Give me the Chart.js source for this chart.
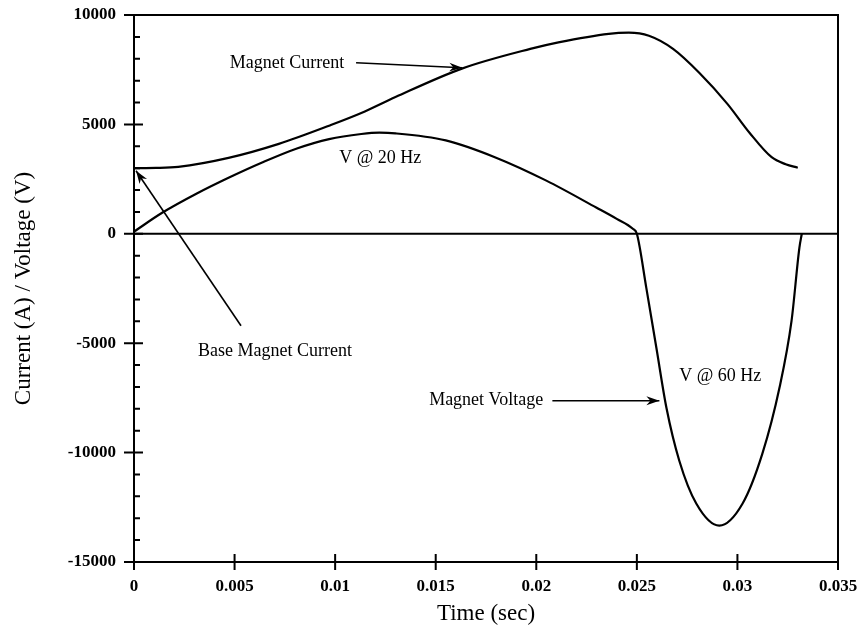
<!DOCTYPE html>
<html>
<head>
<meta charset="utf-8">
<script src="https://cdn.jsdelivr.net/npm/chart.js@4.4.1/dist/chart.umd.min.js"></script>
<style>
html, body { margin: 0; padding: 0; background: #fff; }
</style>
</head>
<body>
<canvas id="chart" width="866" height="636"></canvas>
<script>
// magnet current (A) vs time (sec)
var currentTime = [0, 0.0011, 0.0022, 0.0047, 0.0072, 0.0097, 0.0113, 0.013, 0.0163, 0.0197, 0.0211, 0.0236, 0.0246, 0.0256, 0.0268, 0.0281, 0.0295, 0.0306, 0.0317, 0.0324, 0.033];
var currentAmps = [3000, 3010, 3060, 3470, 4110, 4940, 5520, 6250, 7550, 8450, 8750, 9140, 9190, 9050, 8450, 7360, 5940, 4620, 3500, 3180, 3020];

// magnet voltage (V) vs time (sec)
var voltTime = [0, 0.0014, 0.0031, 0.0047, 0.0064, 0.0081, 0.0097, 0.0113, 0.0122, 0.013, 0.0155, 0.018, 0.0205, 0.023, 0.024, 0.0248, 0.025, 0.02547, 0.02597, 0.02647, 0.02711, 0.02796, 0.0291, 0.03025, 0.03124, 0.03209, 0.03269, 0.03308, 0.0332];
var voltValues = [100, 960, 1830, 2560, 3270, 3900, 4330, 4560, 4620, 4590, 4270, 3480, 2430, 1190, 680, 230, 0, -2470, -5210, -7950, -10370, -12340, -13340, -12340, -10050, -7040, -3980, -640, 0];

var xTicks = [0, 0.005, 0.01, 0.015, 0.02, 0.025, 0.03, 0.035];
var xTickLabels = ['0', '0.005', '0.01', '0.015', '0.02', '0.025', '0.03', '0.035'];
var yTicks = [-15000, -10000, -5000, 0, 5000, 10000];
var yTickLabels = ['-15000', '-10000', '-5000', '0', '5000', '10000'];

// text notes and arrows, in data coordinates
var notes = [
    { text: 'Magnet Current', x: 0.00761, y: 7815 },
    { text: 'V @ 20 Hz', x: 0.01224, y: 3430 },
    { text: 'Base Magnet Current', x: 0.00701, y: -5350 },
    { text: 'Magnet Voltage', x: 0.01751, y: -7630 },
    { text: 'V @ 60 Hz', x: 0.02915, y: -6490 }
];
var arrows = [
    { x0: 0.01104, y0: 7815, x1: 0.01632, y1: 7590 },
    { x0: 0.00532, y0: -4205, x1: 0.0001, y1: 2880 },
    { x0: 0.0208, y0: -7630, x1: 0.02612, y1: -7630 }
];

function pairs(xs, ys) {
    return xs.map(function (x, i) { return { x: x, y: ys[i] }; });
}

var decor = {
    id: 'decor',
    beforeDatasetsDraw: function (chart) {
        var c = chart.ctx, a = chart.chartArea;
        var xs = chart.scales.x, ys = chart.scales.y;
        c.save();
        c.strokeStyle = '#000';
        c.lineWidth = 2;
        c.strokeRect(a.left, a.top, a.right - a.left, a.bottom - a.top);
        // zero line
        var z = ys.getPixelForValue(0);
        c.beginPath(); c.moveTo(a.left, z); c.lineTo(a.right, z); c.stroke();
        // ticks
        c.beginPath();
        yTicks.forEach(function (v) {
            var p = ys.getPixelForValue(v);
            c.moveTo(a.left - 10, p); c.lineTo(a.left + 9, p);
        });
        for (var v = -15000; v <= 10000; v += 1000) {
            if (v % 5000 === 0) continue;
            var p = ys.getPixelForValue(v);
            c.moveTo(a.left, p); c.lineTo(a.left + 6, p);
        }
        xTicks.forEach(function (v) {
            var p = xs.getPixelForValue(v);
            c.moveTo(p, a.bottom - 8); c.lineTo(p, a.bottom + 8);
        });
        c.stroke();
        c.restore();
    },
    afterDatasetsDraw: function (chart) {
        var c = chart.ctx;
        var xs = chart.scales.x, ys = chart.scales.y;
        c.save();
        c.fillStyle = '#000';
        c.strokeStyle = '#000';
        c.font = '18px "Liberation Serif"';
        c.textAlign = 'center';
        c.textBaseline = 'middle';
        notes.forEach(function (n) {
            c.fillText(n.text, xs.getPixelForValue(n.x), ys.getPixelForValue(n.y));
        });
        c.lineWidth = 1.6;
        arrows.forEach(function (r) {
            var x0 = xs.getPixelForValue(r.x0), y0 = ys.getPixelForValue(r.y0);
            var x1 = xs.getPixelForValue(r.x1), y1 = ys.getPixelForValue(r.y1);
            var ang = Math.atan2(y1 - y0, x1 - x0);
            c.beginPath(); c.moveTo(x0, y0); c.lineTo(x1, y1); c.stroke();
            c.beginPath();
            c.moveTo(x1, y1);
            c.lineTo(x1 - 13 * Math.cos(ang) + 4.5 * Math.sin(ang), y1 - 13 * Math.sin(ang) - 4.5 * Math.cos(ang));
            c.lineTo(x1 - 9 * Math.cos(ang), y1 - 9 * Math.sin(ang));
            c.lineTo(x1 - 13 * Math.cos(ang) - 4.5 * Math.sin(ang), y1 - 13 * Math.sin(ang) + 4.5 * Math.cos(ang));
            c.closePath();
            c.fill();
        });
        c.restore();
    }
};

var tickFont = { family: '"Liberation Serif"', size: 17, weight: 'bold' };
var titleFont = { family: '"Liberation Serif"', size: 23 };

new Chart(document.getElementById('chart').getContext('2d'), {
    type: 'line',
    data: {
        datasets: [{
            label: 'Magnet Current',
            data: pairs(currentTime, currentAmps),
            borderColor: '#000',
            borderWidth: 2.2,
            pointRadius: 0,
            cubicInterpolationMode: 'monotone',
            fill: false
        }, {
            label: 'Magnet Voltage',
            data: pairs(voltTime, voltValues),
            borderColor: '#000',
            borderWidth: 2.2,
            pointRadius: 0,
            cubicInterpolationMode: 'monotone',
            fill: false
        }]
    },
    options: {
        responsive: false,
        animation: false,
        layout: { padding: { left: 0, right: 28, top: 0, bottom: 0 } },
        plugins: { legend: { display: false }, tooltip: { enabled: false } },
        scales: {
            x: {
                type: 'linear',
                min: 0, max: 0.035,
                grid: { display: false },
                border: { display: false },
                afterBuildTicks: function (s) { s.ticks = xTicks.map(function (v) { return { value: v }; }); },
                afterFit: function (s) { s.height = 74; },
                ticks: {
                    color: '#000', font: tickFont, padding: 6, maxRotation: 0,
                    callback: function (v, i) { return xTickLabels[i]; }
                },
                title: { display: true, text: 'Time (sec)', color: '#000', font: titleFont, padding: { top: 0, bottom: 8 } }
            },
            y: {
                min: -15000, max: 10000,
                grid: { display: false },
                border: { display: false },
                afterBuildTicks: function (s) { s.ticks = yTicks.map(function (v) { return { value: v }; }); },
                afterFit: function (s) { s.width = 134; s.paddingTop = 15; s.paddingBottom = 0; },
                ticks: {
                    color: '#000', font: tickFont, padding: 10,
                    callback: function (v, i) { return yTickLabels[i]; }
                },
                title: { display: true, text: 'Current (A) / Voltage (V)', color: '#000', font: titleFont, padding: { top: 10, bottom: 0 } }
            }
        }
    },
    plugins: [decor]
});
</script>
</body>
</html>
